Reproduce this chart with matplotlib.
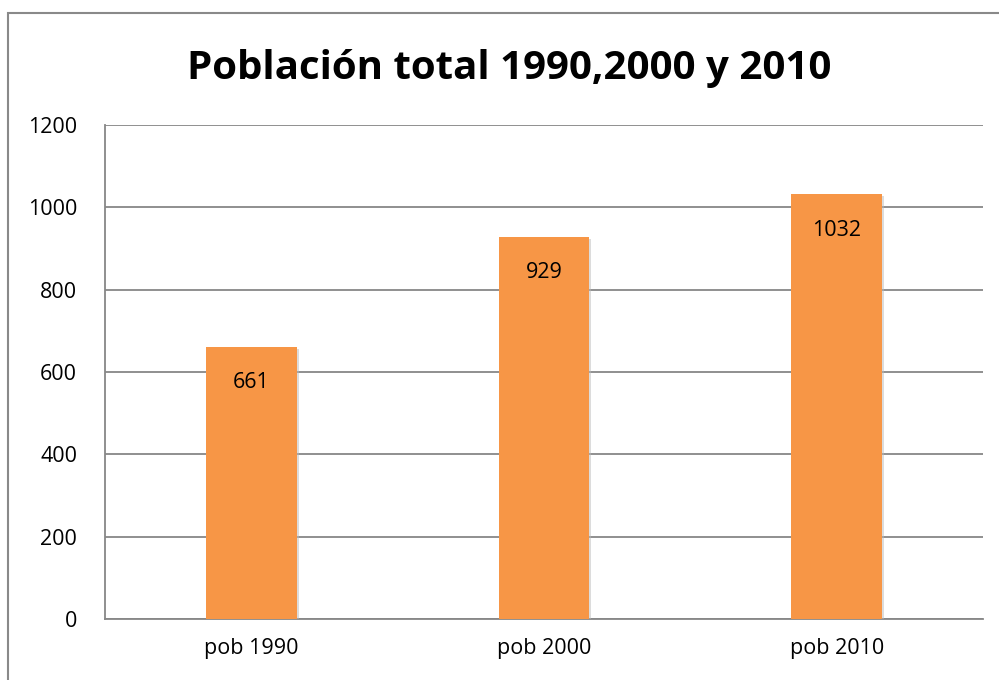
import matplotlib.pyplot as plt
import matplotlib.patheffects as pe
from matplotlib.patches import Rectangle

categories = ['pob 1990', 'pob 2000', 'pob 2010']
values = [661, 929, 1032]
yticks = [0, 200, 400, 600, 800, 1000, 1200]

plt.rcParams['font.family'] = ['Open Sans', 'DejaVu Sans']

fig = plt.figure(figsize=(9.99, 6.80), dpi=100)
ax = fig.add_axes([105 / 999, 1 - 619 / 680, 878 / 999, 494 / 680])

# outer chart border (cut at right and bottom like the original)
fig.patches.append(Rectangle((7.5 / 999, -0.01), 1.02, 1 - 13 / 680 + 0.01,
                             transform=fig.transFigure, fill=False,
                             edgecolor='#898989', linewidth=1.5))

x = range(len(categories))
bars = ax.bar(x, values, width=0.31, color='#F79646', zorder=3,
              path_effects=[pe.SimplePatchShadow(offset=(1.5, -1.5), shadow_rgbFace='#bbbbbb', alpha=0.5),
                            pe.Normal()])

ax.set_xlim(-0.5, 2.5)
ax.set_ylim(0, 1200)
ax.set_yticks(yticks)
ax.set_xticks(list(x))
ax.set_xticklabels(categories)
ax.grid(axis='y', color='#878787', linewidth=1.3, zorder=0)
ax.tick_params(length=0, labelsize=15.5)
ax.tick_params(axis='x', pad=14)
ax.tick_params(axis='y', pad=20)

for s in ['top', 'right']:
    ax.spines[s].set_visible(False)
for s in ['left', 'bottom']:
    ax.spines[s].set_color('#878787')
    ax.spines[s].set_linewidth(1.3)

for bar, v in zip(bars, values):
    ax.annotate(str(v), (bar.get_x() + bar.get_width() / 2, v),
                xytext=(0, -36), textcoords='offset pixels',
                ha='center', va='center', fontsize=15.5, color='black', zorder=4)

fig.text(509 / 999, 1 - 69 / 680, 'Población total 1990,2000 y 2010',
         ha='center', va='center', fontsize=29, fontweight='bold')

fig.savefig('out.png', dpi=100)
